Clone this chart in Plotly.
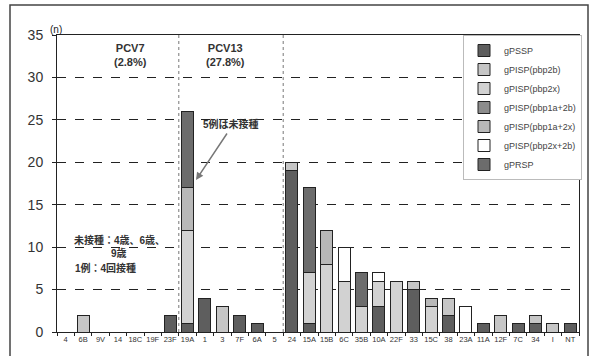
import plotly.graph_objects as go

categories = ["4", "6B", "9V", "14", "18C", "19F", "23F", "19A", "1", "3", "7F", "6A", "5",
              "24", "15A", "15B", "6C", "35B", "10A", "22F", "33", "15C", "38", "23A", "11A",
              "12F", "7C", "34", "I", "NT"]

gPSSP      = [0, 0, 0, 0, 0, 0, 2, 1, 4, 0, 2, 1, 0, 19, 1, 0, 0, 0, 3, 0, 5, 0, 2, 0, 1, 0, 1, 1, 0, 1]
gPISP_2b   = [0, 2, 0, 0, 0, 0, 0, 0, 0, 3, 0, 0, 0, 1, 0, 0, 0, 0, 0, 0, 1, 0, 2, 0, 0, 2, 0, 1, 1, 0]
gPISP_2x   = [0, 0, 0, 0, 0, 0, 0, 11, 0, 0, 0, 0, 0, 0, 6, 8, 6, 3, 3, 6, 0, 3, 0, 0, 0, 0, 0, 0, 0, 0]
gPISP_1a2b = [0] * 30
gPISP_1a2x = [0, 0, 0, 0, 0, 0, 0, 5, 0, 0, 0, 0, 0, 0, 0, 4, 0, 0, 0, 0, 0, 1, 0, 0, 0, 0, 0, 0, 0, 0]
gPISP_2x2b = [0, 0, 0, 0, 0, 0, 0, 0, 0, 0, 0, 0, 0, 0, 0, 0, 4, 0, 1, 0, 0, 0, 0, 3, 0, 0, 0, 0, 0, 0]
gPRSP      = [0, 0, 0, 0, 0, 0, 0, 9, 0, 0, 0, 0, 0, 0, 10, 0, 0, 4, 0, 0, 0, 0, 0, 0, 0, 0, 0, 0, 0, 0]

series = [
    ("gPSSP", gPSSP, "#5e5e5e"),
    ("gPISP(pbp2b)", gPISP_2b, "#c6c6c6"),
    ("gPISP(pbp2x)", gPISP_2x, "#d2d2d2"),
    ("gPISP(pbp1a+2b)", gPISP_1a2b, "#8c8c8c"),
    ("gPISP(pbp1a+2x)", gPISP_1a2x, "#b8b8b8"),
    ("gPISP(pbp2x+2b)", gPISP_2x2b, "#ffffff"),
    ("gPRSP", gPRSP, "#6c6c6c"),
]

fig = go.Figure()
for name, vals, col in series:
    fig.add_trace(go.Bar(
        x=categories, y=[v if v else None for v in vals], name=name,
        marker=dict(color=col, line=dict(color="#222", width=1)),
        width=0.68,
    ))

W, H = 595, 356
L, R, T, B = 57, 16, 35, 24
pw, ph = W - L - R, H - T - B

def px(xp):
    return (xp - L) / pw

def py(yp):
    return (H - B - yp) / ph

fig.update_layout(
    width=W, height=H, barmode="stack",
    margin=dict(l=L, r=R, t=T, b=B),
    paper_bgcolor="white", plot_bgcolor="white",
    font=dict(family="Liberation Sans, Noto Sans CJK JP", color="#222"),
    showlegend=True,
    legend=dict(x=px(463), y=1, xanchor="left", yanchor="top", font=dict(size=9, color="#444"),
                bgcolor="white", bordercolor="#bbb", borderwidth=1,
                tracegroupgap=0, itemwidth=30, traceorder="normal"),
)
fig.update_xaxes(type="category", showline=True, linecolor="#222", linewidth=1, mirror=True,
                 tickson="boundaries", ticks="outside", ticklen=3, tickcolor="#222",
                 tickangle=0, tickfont=dict(size=7.5, color="#333"), showgrid=False)
fig.update_yaxes(range=[0, 35], dtick=5, showline=True, linecolor="#222", linewidth=1, mirror=True,
                 ticks="outside", ticklen=4, tickcolor="#222", tickfont=dict(size=14, color="#333"),
                 ticklabelstandoff=6,
                 showgrid=True, gridcolor="#222", griddash="dash", gridwidth=1, zeroline=False)

shapes = [
    dict(type="line", xref="x", yref="y", x0=6.5, x1=6.5, y0=0, y1=35,
         line=dict(color="#777", width=1, dash="dot")),
    dict(type="line", xref="x", yref="y", x0=12.5, x1=12.5, y0=0, y1=35,
         line=dict(color="#777", width=1, dash="dot")),
    dict(type="rect", xref="paper", yref="paper", x0=px(10), x1=px(588), y0=py(360), y1=py(5),
         line=dict(color="#444", width=1.5), layer="below"),
]
fig.update_layout(shapes=shapes)

anns = [
    dict(x=px(56), y=py(29), text="(n)", font=dict(size=10)),
    dict(x=px(130), y=py(55), text="<b>PCV7<br>(2.8%)</b>", font=dict(size=11, color="#333")),
    dict(x=px(225), y=py(55), text="<b>PCV13<br>(27.8%)</b>", font=dict(size=11, color="#333")),
    dict(x=px(231), y=py(124), text="<b>5例は未接種</b>", font=dict(size=10, color="#333")),
    dict(x=px(119), y=py(240), text="<b>未接種：4歳、6歳、</b>", font=dict(size=10, color="#333")),
    dict(x=px(119), y=py(253), text="<b>9歳</b>", font=dict(size=10, color="#333")),
    dict(x=px(105), y=py(268), text="<b>1例：4回接種</b>", font=dict(size=10, color="#333")),
]
for a in anns:
    a.update(xref="paper", yref="paper", showarrow=False, xanchor="center", yanchor="middle")
fig.update_layout(annotations=anns)
fig.add_annotation(xref="paper", yref="paper", x=px(196), y=py(180), text="",
                   showarrow=True, arrowhead=2, arrowsize=1, arrowwidth=1.5, arrowcolor="#777",
                   ax=32, ay=-48)

fig.write_html("out.html")
